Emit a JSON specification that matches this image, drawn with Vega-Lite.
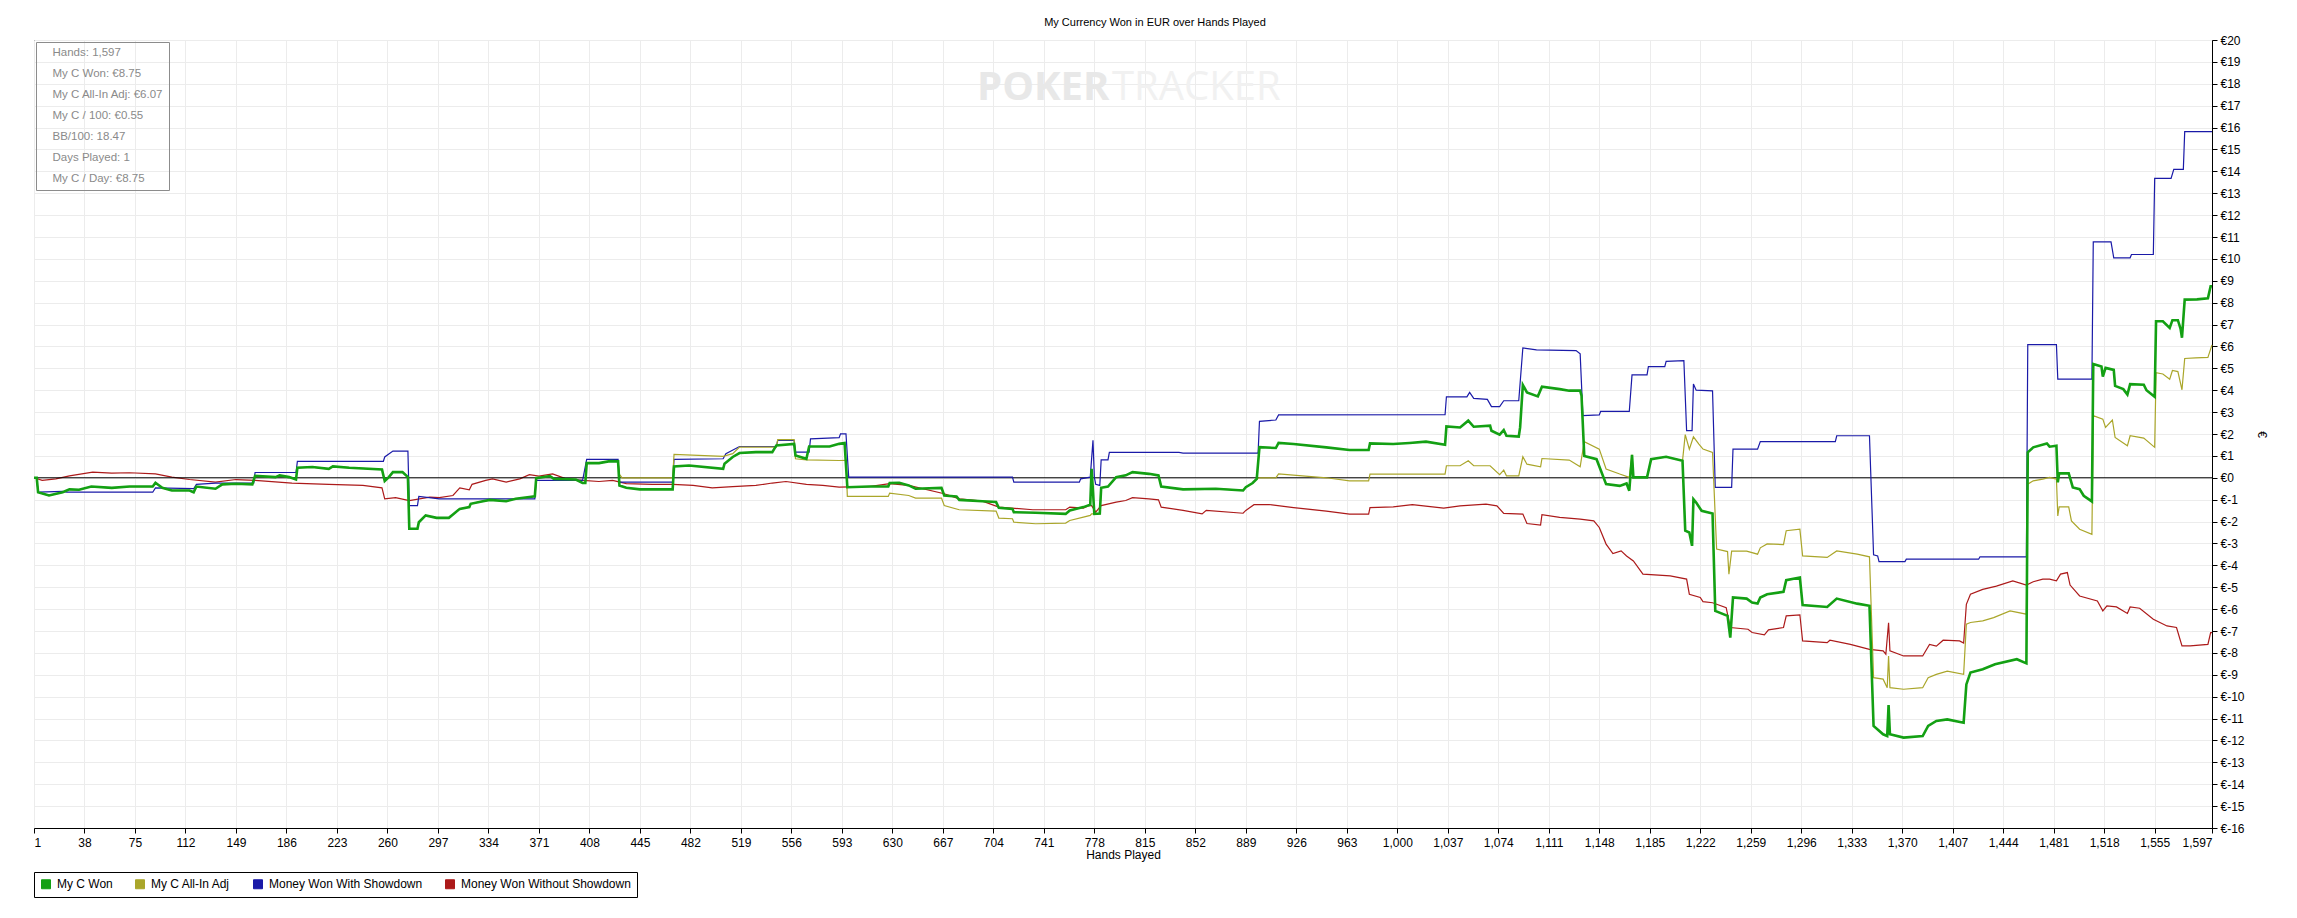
{
  "$schema": "https://vega.github.io/schema/vega-lite/v6.json",
  "width": 2178,
  "height": 788,
  "autosize": {"type": "none"},
  "padding": {"left": 34, "top": 40, "right": 85, "bottom": 90},
  "background": "white",
  "title": {
    "text": "My Currency Won in EUR over Hands Played",
    "font": "Liberation Sans",
    "fontSize": 11,
    "fontWeight": "normal",
    "color": "black",
    "anchor": "middle",
    "dx": 32,
    "offset": 6
  },
  "config": {
    "view": {"stroke": "black", "strokeWidth": 1},
    "font": "Liberation Sans",
    "axis": {
      "domainColor": "black",
      "tickColor": "black",
      "tickSize": 5,
      "gridColor": "#ececec",
      "labelFont": "Liberation Sans",
      "labelFontSize": 12,
      "labelColor": "black",
      "titleFont": "Liberation Sans",
      "titleFontSize": 12,
      "titleFontWeight": "normal",
      "titleColor": "black",
      "labelOverlap": false
    }
  },
  "datasets": {
    "won": [
      {"h":1,"v":0},{"h":3,"v":0},{"h":4,"v":-0.66},{"h":12,"v":-0.81},{"h":22,"v":-0.66},{"h":27,"v":-0.53},{"h":34,"v":-0.55},{"h":43,"v":-0.40},{"h":58,"v":-0.46},{"h":71,"v":-0.40},{"h":88,"v":-0.40},{"h":90,"v":-0.23},{"h":95,"v":-0.46},{"h":102,"v":-0.58},{"h":115,"v":-0.58},{"h":118,"v":-0.66},{"h":120,"v":-0.40},{"h":134,"v":-0.50},{"h":139,"v":-0.30},{"h":149,"v":-0.27},{"h":161,"v":-0.30},{"h":163,"v":0.09},{"h":178,"v":0.03},{"h":181,"v":0.11},{"h":188,"v":0.03},{"h":193,"v":-0.08},{"h":194,"v":0.46},{"h":205,"v":0.49},{"h":217,"v":0.41},{"h":220,"v":0.52},{"h":232,"v":0.46},{"h":256,"v":0.38},{"h":258,"v":-0.15},{"h":261,"v":0.03},{"h":264,"v":0.26},{"h":271,"v":0.26},{"h":275,"v":0.03},{"h":276,"v":-2.33},{"h":282,"v":-2.33},{"h":283,"v":-2.03},{"h":288,"v":-1.72},{"h":296,"v":-1.83},{"h":305,"v":-1.83},{"h":308,"v":-1.68},{"h":313,"v":-1.42},{"h":320,"v":-1.34},{"h":321,"v":-1.19},{"h":330,"v":-1.07},{"h":335,"v":-1.01},{"h":347,"v":-1.07},{"h":354,"v":-0.96},{"h":364,"v":-0.88},{"h":368,"v":-0.85},{"h":369,"v":-0.02},{"h":379,"v":0.08},{"h":382,"v":-0.05},{"h":398,"v":-0.08},{"h":403,"v":-0.24},{"h":405,"v":-0.24},{"h":406,"v":0.67},{"h":415,"v":0.67},{"h":423,"v":0.76},{"h":429,"v":0.75},{"h":430,"v":-0.35},{"h":435,"v":-0.46},{"h":445,"v":-0.53},{"h":469,"v":-0.53},{"h":470,"v":0.52},{"h":481,"v":0.56},{"h":506,"v":0.41},{"h":507,"v":0.64},{"h":513,"v":0.95},{"h":518,"v":1.13},{"h":530,"v":1.17},{"h":542,"v":1.17},{"h":545,"v":1.48},{"h":558,"v":1.55},{"h":559,"v":1.02},{"h":567,"v":0.87},{"h":569,"v":1.43},{"h":584,"v":1.43},{"h":591,"v":1.55},{"h":595,"v":1.59},{"h":597,"v":-0.43},{"h":613,"v":-0.40},{"h":627,"v":-0.40},{"h":628,"v":-0.24},{"h":635,"v":-0.23},{"h":642,"v":-0.35},{"h":647,"v":-0.50},{"h":666,"v":-0.46},{"h":668,"v":-0.81},{"h":677,"v":-0.85},{"h":679,"v":-1.01},{"h":696,"v":-1.07},{"h":706,"v":-1.11},{"h":708,"v":-1.37},{"h":718,"v":-1.42},{"h":719,"v":-1.57},{"h":735,"v":-1.60},{"h":757,"v":-1.65},{"h":760,"v":-1.49},{"h":770,"v":-1.34},{"h":775,"v":-1.23},{"h":776,"v":0.41},{"h":778,"v":-1.65},{"h":782,"v":-1.63},{"h":783,"v":-0.46},{"h":788,"v":-0.40},{"h":794,"v":0.03},{"h":801,"v":0.11},{"h":806,"v":0.26},{"h":818,"v":0.18},{"h":825,"v":0.11},{"h":827,"v":-0.40},{"h":843,"v":-0.53},{"h":867,"v":-0.50},{"h":887,"v":-0.58},{"h":889,"v":-0.43},{"h":894,"v":-0.24},{"h":897,"v":-0.05},{"h":899,"v":1.40},{"h":911,"v":1.36},{"h":913,"v":1.59},{"h":924,"v":1.54},{"h":948,"v":1.39},{"h":965,"v":1.27},{"h":979,"v":1.27},{"h":980,"v":1.57},{"h":997,"v":1.54},{"h":1009,"v":1.59},{"h":1021,"v":1.65},{"h":1035,"v":1.51},{"h":1036,"v":2.35},{"h":1046,"v":2.30},{"h":1052,"v":2.61},{"h":1056,"v":2.33},{"h":1068,"v":2.38},{"h":1069,"v":2.15},{"h":1075,"v":1.97},{"h":1078,"v":2.18},{"h":1080,"v":1.92},{"h":1089,"v":1.88},{"h":1090,"v":2.30},{"h":1092,"v":4.24},{"h":1095,"v":3.90},{"h":1103,"v":3.72},{"h":1106,"v":4.16},{"h":1119,"v":4.05},{"h":1126,"v":3.98},{"h":1134,"v":3.98},{"h":1135,"v":3.75},{"h":1137,"v":1.00},{"h":1146,"v":0.85},{"h":1153,"v":-0.29},{"h":1163,"v":-0.37},{"h":1168,"v":-0.26},{"h":1170,"v":-0.59},{"h":1172,"v":1.05},{"h":1173,"v":0.02},{"h":1183,"v":0.02},{"h":1186,"v":0.85},{"h":1197,"v":0.96},{"h":1209,"v":0.78},{"h":1211,"v":-2.42},{"h":1214,"v":-2.50},{"h":1216,"v":-3.11},{"h":1217,"v":-0.98},{"h":1219,"v":-1.13},{"h":1223,"v":-1.51},{"h":1231,"v":-1.63},{"h":1233,"v":-6.08},{"h":1242,"v":-6.31},{"h":1244,"v":-7.30},{"h":1246,"v":-5.47},{"h":1256,"v":-5.52},{"h":1260,"v":-5.70},{"h":1264,"v":-5.75},{"h":1266,"v":-5.47},{"h":1271,"v":-5.32},{"h":1283,"v":-5.21},{"h":1285,"v":-4.68},{"h":1295,"v":-4.56},{"h":1297,"v":-5.81},{"h":1315,"v":-5.90},{"h":1322,"v":-5.52},{"h":1337,"v":-5.75},{"h":1346,"v":-5.85},{"h":1349,"v":-11.34},{"h":1356,"v":-11.72},{"h":1359,"v":-11.80},{"h":1360,"v":-10.38},{"h":1361,"v":-11.72},{"h":1371,"v":-11.87},{"h":1385,"v":-11.80},{"h":1389,"v":-11.34},{"h":1395,"v":-11.11},{"h":1403,"v":-11.04},{"h":1415,"v":-11.19},{"h":1417,"v":-9.44},{"h":1420,"v":-8.90},{"h":1429,"v":-8.75},{"h":1438,"v":-8.52},{"h":1454,"v":-8.29},{"h":1461,"v":-8.48},{"h":1462,"v":1.16},{"h":1466,"v":1.39},{"h":1476,"v":1.57},{"h":1478,"v":1.42},{"h":1483,"v":1.46},{"h":1484,"v":-0.21},{"h":1485,"v":0.20},{"h":1492,"v":0.20},{"h":1495,"v":-0.44},{"h":1500,"v":-0.52},{"h":1503,"v":-0.82},{"h":1509,"v":-1.08},{"h":1510,"v":5.20},{"h":1516,"v":5.08},{"h":1517,"v":4.62},{"h":1519,"v":5.02},{"h":1525,"v":4.93},{"h":1526,"v":4.20},{"h":1532,"v":4.05},{"h":1535,"v":3.80},{"h":1537,"v":4.28},{"h":1547,"v":4.25},{"h":1549,"v":4.00},{"h":1555,"v":3.70},{"h":1556,"v":7.15},{"h":1561,"v":7.15},{"h":1566,"v":6.85},{"h":1568,"v":7.20},{"h":1572,"v":7.20},{"h":1574,"v":6.80},{"h":1575,"v":6.40},{"h":1577,"v":8.14},{"h":1586,"v":8.15},{"h":1594,"v":8.20},{"h":1596,"v":8.75},{"h":1597,"v":8.75}
    ],
    "adj": [
      {"h":1,"v":0},{"h":3,"v":0},{"h":4,"v":-0.66},{"h":12,"v":-0.81},{"h":22,"v":-0.66},{"h":27,"v":-0.53},{"h":34,"v":-0.55},{"h":43,"v":-0.40},{"h":58,"v":-0.46},{"h":71,"v":-0.40},{"h":88,"v":-0.40},{"h":90,"v":-0.23},{"h":95,"v":-0.46},{"h":102,"v":-0.58},{"h":115,"v":-0.58},{"h":118,"v":-0.66},{"h":120,"v":-0.40},{"h":134,"v":-0.50},{"h":139,"v":-0.30},{"h":149,"v":-0.27},{"h":161,"v":-0.30},{"h":163,"v":0.09},{"h":178,"v":0.03},{"h":181,"v":0.11},{"h":188,"v":0.03},{"h":193,"v":-0.08},{"h":194,"v":0.46},{"h":205,"v":0.49},{"h":217,"v":0.41},{"h":220,"v":0.52},{"h":232,"v":0.46},{"h":256,"v":0.38},{"h":258,"v":-0.15},{"h":261,"v":0.03},{"h":264,"v":0.26},{"h":271,"v":0.26},{"h":275,"v":0.03},{"h":276,"v":-2.33},{"h":282,"v":-2.33},{"h":283,"v":-2.03},{"h":288,"v":-1.72},{"h":296,"v":-1.83},{"h":305,"v":-1.83},{"h":308,"v":-1.68},{"h":313,"v":-1.42},{"h":320,"v":-1.34},{"h":321,"v":-1.19},{"h":330,"v":-1.07},{"h":335,"v":-1.01},{"h":347,"v":-1.07},{"h":354,"v":-0.96},{"h":364,"v":-0.88},{"h":368,"v":-0.85},{"h":369,"v":-0.02},{"h":379,"v":0.08},{"h":382,"v":-0.05},{"h":398,"v":-0.08},{"h":403,"v":-0.24},{"h":405,"v":-0.24},{"h":406,"v":0.67},{"h":415,"v":0.67},{"h":423,"v":0.76},{"h":429,"v":0.75},
      {"h":430,"v":0.15},{"h":432,"v":0.0},{"h":469,"v":0.0},{"h":470,"v":1.07},{"h":506,"v":0.98},{"h":513,"v":1.10},{"h":518,"v":1.40},{"h":545,"v":1.40},{"h":546,"v":1.74},{"h":558,"v":1.74},{"h":559,"v":0.87},{"h":567,"v":0.82},{"h":591,"v":0.79},{"h":596,"v":0.80},{"h":597,"v":-0.85},{"h":627,"v":-0.85},{"h":628,"v":-0.70},{"h":642,"v":-0.81},{"h":647,"v":-0.93},{"h":666,"v":-0.93},{"h":668,"v":-1.27},{"h":679,"v":-1.46},{"h":706,"v":-1.52},{"h":708,"v":-1.84},{"h":718,"v":-1.87},{"h":719,"v":-2.03},{"h":735,"v":-2.10},{"h":757,"v":-2.07},{"h":760,"v":-1.95},{"h":770,"v":-1.80},{"h":775,"v":-1.72},{"h":776,"v":-1.65},{"h":782,"v":-1.65},{"h":783,"v":-0.46},{"h":788,"v":-0.40},{"h":794,"v":0.03},{"h":801,"v":0.11},{"h":806,"v":0.26},{"h":818,"v":0.18},{"h":825,"v":0.11},{"h":827,"v":-0.40},{"h":843,"v":-0.53},{"h":867,"v":-0.50},{"h":887,"v":-0.58},{"h":889,"v":-0.43},{"h":894,"v":-0.24},{"h":897,"v":-0.05},{"h":899,"v":0.0},{"h":911,"v":0.0},{"h":913,"v":0.18},{"h":948,"v":0.0},{"h":965,"v":-0.14},{"h":979,"v":-0.14},{"h":980,"v":0.17},{"h":1035,"v":0.17},{"h":1036,"v":0.55},{"h":1046,"v":0.55},{"h":1052,"v":0.78},{"h":1056,"v":0.55},{"h":1068,"v":0.55},{"h":1075,"v":0.14},{"h":1078,"v":0.35},{"h":1080,"v":0.09},{"h":1089,"v":0.09},{"h":1092,"v":0.96},{"h":1095,"v":0.62},{"h":1105,"v":0.50},{"h":1106,"v":0.88},{"h":1126,"v":0.81},{"h":1134,"v":0.50},{"h":1137,"v":1.65},{"h":1148,"v":1.31},{"h":1153,"v":0.40},{"h":1163,"v":0.17},{"h":1170,"v":0.02},{"h":1172,"v":1.05},{"h":1173,"v":0.02},{"h":1183,"v":0.02},{"h":1186,"v":0.85},{"h":1197,"v":0.96},{"h":1209,"v":0.78},{"h":1211,"v":1.97},{"h":1214,"v":1.31},{"h":1217,"v":1.87},{"h":1221,"v":1.54},{"h":1224,"v":1.31},{"h":1231,"v":1.16},{"h":1233,"v":-1.81},{"h":1234,"v":-3.26},{"h":1242,"v":-3.37},{"h":1243,"v":-4.40},{"h":1245,"v":-3.35},{"h":1256,"v":-3.35},{"h":1264,"v":-3.49},{"h":1266,"v":-3.20},{"h":1271,"v":-3.02},{"h":1283,"v":-3.05},{"h":1285,"v":-2.42},{"h":1295,"v":-2.35},{"h":1297,"v":-3.57},{"h":1315,"v":-3.64},{"h":1322,"v":-3.34},{"h":1337,"v":-3.49},{"h":1346,"v":-3.61},{"h":1349,"v":-9.13},{"h":1356,"v":-9.20},{"h":1359,"v":-9.59},{"h":1360,"v":-8.14},{"h":1361,"v":-9.59},{"h":1371,"v":-9.66},{"h":1385,"v":-9.59},{"h":1389,"v":-9.13},{"h":1395,"v":-8.98},{"h":1403,"v":-8.83},{"h":1415,"v":-8.98},{"h":1417,"v":-6.69},{"h":1420,"v":-6.61},{"h":1429,"v":-6.54},{"h":1437,"v":-6.39},{"h":1449,"v":-6.08},{"h":1461,"v":-6.23},{"h":1462,"v":-0.29},{"h":1466,"v":-0.14},{"h":1473,"v":-0.06},{"h":1478,"v":0.02},{"h":1483,"v":-0.06},{"h":1484,"v":-1.74},{"h":1485,"v":-1.33},{"h":1492,"v":-1.33},{"h":1494,"v":-1.97},{"h":1500,"v":-2.35},{"h":1509,"v":-2.58},{"h":1510,"v":2.84},{"h":1517,"v":2.68},{"h":1519,"v":2.30},{"h":1524,"v":2.64},{"h":1526,"v":1.84},{"h":1535,"v":1.46},{"h":1537,"v":1.92},{"h":1547,"v":1.81},{"h":1555,"v":1.39},{"h":1556,"v":4.80},{"h":1561,"v":4.74},{"h":1566,"v":4.50},{"h":1568,"v":4.90},{"h":1572,"v":4.85},{"h":1575,"v":4.02},{"h":1577,"v":5.45},{"h":1585,"v":5.48},{"h":1594,"v":5.50},{"h":1597,"v":6.07}
    ],
    "sd": [
      {"h":1,"v":0},{"h":3,"v":0},{"h":4,"v":-0.66},{"h":22,"v":-0.62},{"h":25,"v":-0.66},{"h":88,"v":-0.66},{"h":90,"v":-0.46},{"h":118,"v":-0.50},{"h":120,"v":-0.30},{"h":134,"v":-0.24},{"h":162,"v":-0.24},{"h":163,"v":0.24},{"h":193,"v":0.24},{"h":194,"v":0.75},{"h":257,"v":0.75},{"h":258,"v":0.95},{"h":264,"v":1.22},{"h":275,"v":1.22},{"h":276,"v":-1.27},{"h":282,"v":-1.27},{"h":283,"v":-0.85},{"h":298,"v":-0.96},{"h":368,"v":-0.96},{"h":369,"v":-0.12},{"h":403,"v":-0.12},{"h":406,"v":0.84},{"h":429,"v":0.84},{"h":430,"v":-0.20},{"h":469,"v":-0.20},{"h":470,"v":0.84},{"h":506,"v":0.87},{"h":508,"v":1.10},{"h":518,"v":1.43},{"h":545,"v":1.43},{"h":546,"v":1.71},{"h":558,"v":1.71},{"h":559,"v":1.17},{"h":569,"v":1.17},{"h":570,"v":1.78},{"h":591,"v":1.83},{"h":592,"v":2.01},{"h":596,"v":2.01},{"h":598,"v":0.03},{"h":718,"v":0.03},{"h":719,"v":-0.20},{"h":767,"v":-0.20},{"h":768,"v":-0.05},{"h":775,"v":0.03},{"h":777,"v":1.71},{"h":778,"v":0.03},{"h":779,"v":-0.30},{"h":782,"v":-0.35},{"h":783,"v":0.82},{"h":788,"v":0.82},{"h":789,"v":1.16},{"h":840,"v":1.16},{"h":843,"v":1.13},{"h":898,"v":1.13},{"h":899,"v":2.58},{"h":911,"v":2.64},{"h":913,"v":2.87},{"h":1035,"v":2.88},{"h":1036,"v":3.70},{"h":1051,"v":3.70},{"h":1053,"v":3.90},{"h":1056,"v":3.63},{"h":1066,"v":3.58},{"h":1069,"v":3.25},{"h":1075,"v":3.25},{"h":1078,"v":3.52},{"h":1089,"v":3.52},{"h":1092,"v":5.93},{"h":1102,"v":5.84},{"h":1131,"v":5.81},{"h":1134,"v":5.66},{"h":1136,"v":2.84},{"h":1148,"v":2.87},{"h":1149,"v":3.03},{"h":1170,"v":3.03},{"h":1172,"v":4.70},{"h":1183,"v":4.70},{"h":1184,"v":5.08},{"h":1196,"v":5.08},{"h":1197,"v":5.32},{"h":1210,"v":5.35},{"h":1212,"v":2.15},{"h":1216,"v":2.15},{"h":1217,"v":4.28},{"h":1219,"v":4.00},{"h":1231,"v":3.97},{"h":1233,"v":-0.44},{"h":1245,"v":-0.44},{"h":1246,"v":1.31},{"h":1264,"v":1.31},{"h":1266,"v":1.65},{"h":1321,"v":1.65},{"h":1322,"v":1.92},{"h":1346,"v":1.92},{"h":1349,"v":-3.52},{"h":1352,"v":-3.57},{"h":1353,"v":-3.83},{"h":1372,"v":-3.83},{"h":1373,"v":-3.72},{"h":1426,"v":-3.72},{"h":1427,"v":-3.61},{"h":1461,"v":-3.61},{"h":1462,"v":6.08},{"h":1483,"v":6.08},{"h":1484,"v":4.51},{"h":1509,"v":4.51},{"h":1510,"v":10.78},{"h":1523,"v":10.78},{"h":1525,"v":10.05},{"h":1537,"v":10.05},{"h":1538,"v":10.20},{"h":1554,"v":10.20},{"h":1555,"v":13.68},{"h":1567,"v":13.68},{"h":1569,"v":14.09},{"h":1576,"v":14.09},{"h":1577,"v":15.81},{"h":1597,"v":15.81}
    ],
    "nsd": [
      {"h":1,"v":0},{"h":7,"v":-0.12},{"h":17,"v":-0.05},{"h":27,"v":0.09},{"h":44,"v":0.26},{"h":58,"v":0.21},{"h":71,"v":0.23},{"h":90,"v":0.18},{"h":102,"v":0.03},{"h":115,"v":-0.08},{"h":134,"v":-0.20},{"h":149,"v":-0.08},{"h":163,"v":-0.12},{"h":190,"v":-0.24},{"h":217,"v":-0.30},{"h":242,"v":-0.35},{"h":256,"v":-0.46},{"h":258,"v":-0.96},{"h":266,"v":-0.91},{"h":276,"v":-1.04},{"h":291,"v":-0.88},{"h":298,"v":-0.91},{"h":308,"v":-0.81},{"h":313,"v":-0.46},{"h":320,"v":-0.55},{"h":322,"v":-0.30},{"h":332,"v":-0.12},{"h":337,"v":-0.05},{"h":347,"v":-0.20},{"h":357,"v":-0.05},{"h":364,"v":0.14},{"h":371,"v":0.08},{"h":381,"v":0.18},{"h":391,"v":-0.05},{"h":403,"v":-0.12},{"h":415,"v":-0.17},{"h":425,"v":-0.12},{"h":435,"v":-0.27},{"h":454,"v":-0.30},{"h":469,"v":-0.30},{"h":484,"v":-0.35},{"h":498,"v":-0.46},{"h":513,"v":-0.40},{"h":530,"v":-0.35},{"h":542,"v":-0.24},{"h":552,"v":-0.17},{"h":567,"v":-0.30},{"h":579,"v":-0.35},{"h":591,"v":-0.43},{"h":599,"v":-0.42},{"h":613,"v":-0.40},{"h":628,"v":-0.27},{"h":642,"v":-0.35},{"h":668,"v":-0.73},{"h":679,"v":-0.96},{"h":696,"v":-1.07},{"h":708,"v":-1.34},{"h":733,"v":-1.46},{"h":757,"v":-1.46},{"h":760,"v":-1.34},{"h":770,"v":-1.39},{"h":774,"v":-1.27},{"h":776,"v":-1.27},{"h":779,"v":-1.57},{"h":783,"v":-1.27},{"h":794,"v":-1.11},{"h":801,"v":-1.04},{"h":806,"v":-0.91},{"h":818,"v":-0.96},{"h":825,"v":-1.01},{"h":827,"v":-1.34},{"h":843,"v":-1.49},{"h":857,"v":-1.65},{"h":860,"v":-1.49},{"h":887,"v":-1.62},{"h":889,"v":-1.49},{"h":895,"v":-1.23},{"h":906,"v":-1.22},{"h":924,"v":-1.36},{"h":948,"v":-1.52},{"h":965,"v":-1.66},{"h":979,"v":-1.66},{"h":980,"v":-1.36},{"h":997,"v":-1.33},{"h":1011,"v":-1.23},{"h":1034,"v":-1.39},{"h":1046,"v":-1.28},{"h":1065,"v":-1.20},{"h":1073,"v":-1.28},{"h":1078,"v":-1.63},{"h":1092,"v":-1.66},{"h":1095,"v":-2.09},{"h":1105,"v":-2.16},{"h":1106,"v":-1.69},{"h":1119,"v":-1.81},{"h":1134,"v":-1.89},{"h":1144,"v":-1.97},{"h":1148,"v":-2.27},{"h":1153,"v":-3.03},{"h":1158,"v":-3.46},{"h":1164,"v":-3.34},{"h":1168,"v":-3.57},{"h":1173,"v":-3.80},{"h":1180,"v":-4.40},{"h":1200,"v":-4.48},{"h":1212,"v":-4.63},{"h":1214,"v":-5.32},{"h":1222,"v":-5.47},{"h":1224,"v":-5.66},{"h":1231,"v":-5.71},{"h":1241,"v":-5.93},{"h":1244,"v":-6.84},{"h":1257,"v":-6.92},{"h":1260,"v":-7.07},{"h":1269,"v":-7.18},{"h":1272,"v":-6.95},{"h":1283,"v":-6.84},{"h":1285,"v":-6.31},{"h":1295,"v":-6.26},{"h":1297,"v":-7.45},{"h":1315,"v":-7.53},{"h":1317,"v":-7.42},{"h":1332,"v":-7.61},{"h":1346,"v":-7.84},{"h":1356,"v":-7.91},{"h":1358,"v":-8.06},{"h":1360,"v":-6.62},{"h":1361,"v":-7.91},{"h":1371,"v":-8.14},{"h":1385,"v":-8.14},{"h":1390,"v":-7.61},{"h":1395,"v":-7.69},{"h":1400,"v":-7.42},{"h":1412,"v":-7.45},{"h":1415,"v":-7.55},{"h":1417,"v":-5.78},{"h":1420,"v":-5.32},{"h":1429,"v":-5.10},{"h":1439,"v":-4.95},{"h":1451,"v":-4.71},{"h":1461,"v":-4.90},{"h":1466,"v":-4.75},{"h":1473,"v":-4.63},{"h":1478,"v":-4.63},{"h":1483,"v":-4.71},{"h":1486,"v":-4.40},{"h":1491,"v":-4.33},{"h":1493,"v":-4.90},{"h":1500,"v":-5.40},{"h":1513,"v":-5.63},{"h":1517,"v":-6.08},{"h":1520,"v":-5.85},{"h":1527,"v":-5.90},{"h":1535,"v":-6.20},{"h":1537,"v":-5.90},{"h":1544,"v":-5.96},{"h":1554,"v":-6.46},{"h":1564,"v":-6.77},{"h":1571,"v":-6.84},{"h":1575,"v":-7.68},{"h":1581,"v":-7.68},{"h":1594,"v":-7.61},{"h":1596,"v":-7.07},{"h":1597,"v":-7.07}
    ]
  },
  "layer": [
    {
      "data": {"name": "nsd"},
      "mark": {"type": "line", "strokeWidth": 1.2},
      "encoding": {
        "x": {
          "field": "h",
          "type": "quantitative",
          "title": "Hands Played",
          "scale": {"domain": [1, 1597], "nice": false, "zero": false},
          "axis": {
            "values": [1,38,75,112,149,186,223,260,297,334,371,408,445,482,519,556,593,630,667,704,741,778,815,852,889,926,963,1000,1037,1074,1111,1148,1185,1222,1259,1296,1333,1370,1407,1444,1481,1518,1555,1597],
            "format": ",d",
            "grid": true,
            "labelOverlap": false,
            "labelPadding": 4,
            "titlePadding": 1
          }
        },
        "y": {
          "field": "v",
          "type": "quantitative",
          "title": "€",
          "scale": {"domain": [-16, 20], "nice": false, "zero": false},
          "axis": {
            "orient": "right",
            "values": [-16,-15,-14,-13,-12,-11,-10,-9,-8,-7,-6,-5,-4,-3,-2,-1,0,1,2,3,4,5,6,7,8,9,10,11,12,13,14,15,16,17,18,19,20],
            "labelExpr": "'€' + datum.value",
            "grid": true,
            "labelOverlap": false,
            "labelPadding": 3,
            "titlePadding": 10
          }
        },
        "color": {
          "datum": "Money Won Without Showdown",
          "scale": {
            "domain": ["My C Won", "My C All-In Adj", "Money Won With Showdown", "Money Won Without Showdown"],
            "range": ["#13a013", "#aaa62a", "#1a1aa8", "#ac1a1a"]
          },
          "legend": {
            "title": null,
            "orient": "none",
            "legendX": 0,
            "legendY": 832,
            "direction": "horizontal",
            "strokeColor": "black",
            "padding": 6,
            "columnPadding": 20,
            "labelOffset": 5,
            "labelLimit": 400,
            "labelFont": "Liberation Sans",
            "labelFontSize": 12,
            "labelColor": "black",
            "symbolType": "square",
            "symbolSize": 81,
            "symbolStrokeWidth": 1,
            "symbolStrokeColor": "black",
            "symbolOpacity": 1,
            "encode": {
              "symbols": {
                "update": {
                  "fill": {"scale": "color", "field": "value"},
                  "stroke": {"value": "black"},
                  "strokeWidth": {"value": 1}
                }
              }
            }
          }
        }
      }
    },
    {
      "data": {"values": [{}]},
      "mark": {"type": "rule", "color": "black", "strokeWidth": 1},
      "encoding": {
        "y": {
          "datum": 0,
          "type": "quantitative",
          "title": "€",
          "axis": {
            "orient": "right",
            "values": [-16,-15,-14,-13,-12,-11,-10,-9,-8,-7,-6,-5,-4,-3,-2,-1,0,1,2,3,4,5,6,7,8,9,10,11,12,13,14,15,16,17,18,19,20],
            "labelExpr": "'€' + datum.value",
            "grid": true,
            "labelOverlap": false,
            "labelPadding": 3,
            "titlePadding": 10
          }
        }
      }
    },
    {
      "data": {"values": [{"t": "POKER"}]},
      "mark": {"type": "text", "align": "right", "baseline": "middle", "font": "Open Sans", "fontSize": 40, "fontWeight": "bold", "color": "#e8e8e8"},
      "encoding": {
        "x": {
          "datum": 789,
          "type": "quantitative",
          "title": "Hands Played",
          "axis": {
            "values": [1,38,75,112,149,186,223,260,297,334,371,408,445,482,519,556,593,630,667,704,741,778,815,852,889,926,963,1000,1037,1074,1111,1148,1185,1222,1259,1296,1333,1370,1407,1444,1481,1518,1555,1597],
            "format": ",d",
            "grid": true,
            "labelOverlap": false,
            "labelPadding": 4,
            "titlePadding": 1
          }
        },
        "y": {
          "datum": 17.8,
          "type": "quantitative",
          "title": "€",
          "axis": {
            "orient": "right",
            "values": [-16,-15,-14,-13,-12,-11,-10,-9,-8,-7,-6,-5,-4,-3,-2,-1,0,1,2,3,4,5,6,7,8,9,10,11,12,13,14,15,16,17,18,19,20],
            "labelExpr": "'€' + datum.value",
            "grid": true,
            "labelOverlap": false,
            "labelPadding": 3,
            "titlePadding": 10
          }
        },
        "text": {"field": "t"}
      }
    },
    {
      "data": {"values": [{"t": "TRACKER"}]},
      "mark": {"type": "text", "align": "left", "baseline": "middle", "font": "Open Sans", "fontSize": 40, "fontWeight": "normal", "color": "#f1f1f1"},
      "encoding": {
        "x": {
          "datum": 791,
          "type": "quantitative",
          "title": "Hands Played",
          "axis": {
            "values": [1,38,75,112,149,186,223,260,297,334,371,408,445,482,519,556,593,630,667,704,741,778,815,852,889,926,963,1000,1037,1074,1111,1148,1185,1222,1259,1296,1333,1370,1407,1444,1481,1518,1555,1597],
            "format": ",d",
            "grid": true,
            "labelOverlap": false,
            "labelPadding": 4,
            "titlePadding": 1
          }
        },
        "y": {
          "datum": 17.8,
          "type": "quantitative",
          "title": "€",
          "axis": {
            "orient": "right",
            "values": [-16,-15,-14,-13,-12,-11,-10,-9,-8,-7,-6,-5,-4,-3,-2,-1,0,1,2,3,4,5,6,7,8,9,10,11,12,13,14,15,16,17,18,19,20],
            "labelExpr": "'€' + datum.value",
            "grid": true,
            "labelOverlap": false,
            "labelPadding": 3,
            "titlePadding": 10
          }
        },
        "text": {"field": "t"}
      }
    },
    {
      "data": {"name": "sd"},
      "mark": {"type": "line", "strokeWidth": 1.2},
      "encoding": {
        "x": {
          "field": "h",
          "type": "quantitative",
          "title": "Hands Played",
          "axis": {
            "values": [1,38,75,112,149,186,223,260,297,334,371,408,445,482,519,556,593,630,667,704,741,778,815,852,889,926,963,1000,1037,1074,1111,1148,1185,1222,1259,1296,1333,1370,1407,1444,1481,1518,1555,1597],
            "format": ",d",
            "grid": true,
            "labelOverlap": false,
            "labelPadding": 4,
            "titlePadding": 1
          }
        },
        "y": {
          "field": "v",
          "type": "quantitative",
          "title": "€",
          "axis": {
            "orient": "right",
            "values": [-16,-15,-14,-13,-12,-11,-10,-9,-8,-7,-6,-5,-4,-3,-2,-1,0,1,2,3,4,5,6,7,8,9,10,11,12,13,14,15,16,17,18,19,20],
            "labelExpr": "'€' + datum.value",
            "grid": true,
            "labelOverlap": false,
            "labelPadding": 3,
            "titlePadding": 10
          }
        },
        "color": {"datum": "Money Won With Showdown", "scale": {"domain": ["My C Won", "My C All-In Adj", "Money Won With Showdown", "Money Won Without Showdown"], "range": ["#13a013", "#aaa62a", "#1a1aa8", "#ac1a1a"]}}
      }
    },
    {
      "data": {"name": "adj"},
      "mark": {"type": "line", "strokeWidth": 1.2},
      "encoding": {
        "x": {
          "field": "h",
          "type": "quantitative",
          "title": "Hands Played",
          "axis": {
            "values": [1,38,75,112,149,186,223,260,297,334,371,408,445,482,519,556,593,630,667,704,741,778,815,852,889,926,963,1000,1037,1074,1111,1148,1185,1222,1259,1296,1333,1370,1407,1444,1481,1518,1555,1597],
            "format": ",d",
            "grid": true,
            "labelOverlap": false,
            "labelPadding": 4,
            "titlePadding": 1
          }
        },
        "y": {
          "field": "v",
          "type": "quantitative",
          "title": "€",
          "axis": {
            "orient": "right",
            "values": [-16,-15,-14,-13,-12,-11,-10,-9,-8,-7,-6,-5,-4,-3,-2,-1,0,1,2,3,4,5,6,7,8,9,10,11,12,13,14,15,16,17,18,19,20],
            "labelExpr": "'€' + datum.value",
            "grid": true,
            "labelOverlap": false,
            "labelPadding": 3,
            "titlePadding": 10
          }
        },
        "color": {"datum": "My C All-In Adj", "scale": {"domain": ["My C Won", "My C All-In Adj", "Money Won With Showdown", "Money Won Without Showdown"], "range": ["#13a013", "#aaa62a", "#1a1aa8", "#ac1a1a"]}}
      }
    },
    {
      "data": {"name": "won"},
      "mark": {"type": "line", "strokeWidth": 2.6},
      "encoding": {
        "x": {
          "field": "h",
          "type": "quantitative",
          "title": "Hands Played",
          "axis": {
            "values": [1,38,75,112,149,186,223,260,297,334,371,408,445,482,519,556,593,630,667,704,741,778,815,852,889,926,963,1000,1037,1074,1111,1148,1185,1222,1259,1296,1333,1370,1407,1444,1481,1518,1555,1597],
            "format": ",d",
            "grid": true,
            "labelOverlap": false,
            "labelPadding": 4,
            "titlePadding": 1
          }
        },
        "y": {
          "field": "v",
          "type": "quantitative",
          "title": "€",
          "axis": {
            "orient": "right",
            "values": [-16,-15,-14,-13,-12,-11,-10,-9,-8,-7,-6,-5,-4,-3,-2,-1,0,1,2,3,4,5,6,7,8,9,10,11,12,13,14,15,16,17,18,19,20],
            "labelExpr": "'€' + datum.value",
            "grid": true,
            "labelOverlap": false,
            "labelPadding": 3,
            "titlePadding": 10
          }
        },
        "color": {"datum": "My C Won", "scale": {"domain": ["My C Won", "My C All-In Adj", "Money Won With Showdown", "Money Won Without Showdown"], "range": ["#13a013", "#aaa62a", "#1a1aa8", "#ac1a1a"]}}
      }
    },
    {
      "data": {"values": [{"t": "Hands: 1,597"}, {"t": "My C Won: €8.75"}, {"t": "My C All-In Adj: €6.07"}, {"t": "My C / 100: €0.55"}, {"t": "BB/100: 18.47"}, {"t": "Days Played: 1"}, {"t": "My C / Day: €8.75"}]},
      "mark": {"type": "point", "opacity": 0},
      "encoding": {
        "shape": {
          "field": "t",
          "type": "nominal",
          "sort": null,
          "legend": {
            "title": null,
            "orient": "top-left",
            "offset": 2,
            "padding": 5,
            "strokeColor": "#8c8c8c",
            "symbolSize": 0,
            "symbolStrokeWidth": 0,
            "symbolOpacity": 0,
            "labelOffset": 0,
            "labelFont": "Liberation Sans",
            "labelFontSize": 11.5,
            "labelColor": "#8a8a8a",
            "labelLimit": 300,
            "rowPadding": 8
          }
        }
      }
    }
  ]
}
